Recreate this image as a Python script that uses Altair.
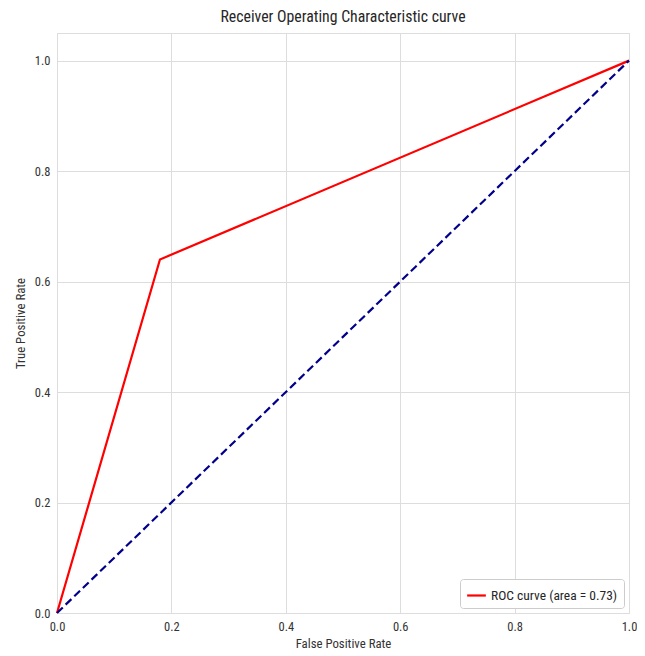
import altair as alt
import pandas as pd

fpr = [0.0, 0.18, 1.0]
tpr = [0.0, 0.64, 1.0]
diag_x = [0.0, 1.0]
diag_y = [0.0, 1.0]
label = "ROC curve (area = 0.73)"
ticks = [0.0, 0.2, 0.4, 0.6, 0.8, 1.0]

roc = pd.DataFrame({"fpr": fpr, "tpr": tpr, "series": [label] * len(fpr)})
diag = pd.DataFrame({"fpr": diag_x, "tpr": diag_y})

FONT = "Liberation Sans Narrow, Roboto Condensed, Roboto, DejaVu Sans"

x_enc = alt.X("fpr:Q", scale=alt.Scale(domain=[0, 1], nice=False, zero=False),
              axis=alt.Axis(values=ticks, format=".1f", title="False Positive Rate"))
y_enc = alt.Y("tpr:Q", scale=alt.Scale(domain=[0, 1.05], nice=False, zero=False),
              axis=alt.Axis(values=ticks, format=".1f", title="True Positive Rate"))

diag_line = alt.Chart(diag).mark_line(color="#00008b", strokeWidth=2.2, strokeDash=[8, 4]).encode(
    x=x_enc, y=y_enc
)

roc_line = alt.Chart(roc).mark_line(strokeWidth=2.2).encode(
    x=x_enc, y=y_enc,
    color=alt.Color("series:N", scale=alt.Scale(domain=[label], range=["#ff0000"]),
                    legend=alt.Legend(title=None, orient="bottom-right", symbolType="stroke",
                                      symbolStrokeWidth=2.2, symbolSize=350,
                                      strokeColor="#cccccc", fillColor="white",
                                      padding=6, cornerRadius=3,
                                      labelFont=FONT, labelFontSize=13.5, labelColor="#262626",
                                      offset=5))
)

chart = alt.layer(roc_line, diag_line).properties(
    width=572, height=580,
    title=alt.TitleParams("Receiver Operating Characteristic curve", font=FONT, fontSize=15.8,
                          fontWeight="normal", color="#262626", offset=7),
    autosize=alt.AutoSizeParams(type="none"),
    padding={"left": 49, "top": 25, "right": 8, "bottom": 42},
).configure_view(
    stroke="#dddddd", strokeWidth=1
).configure_axis(
    grid=True, gridColor="#dddddd", gridWidth=1, domain=False, ticks=False, labelFlush=False,
    labelFont=FONT, labelFontSize=12.5, labelColor="#333333", labelPadding=7,
    titleFont=FONT, titleFontSize=12.8, titleFontWeight="normal", titleColor="#333333",
).configure_axisX(titlePadding=5).configure_axisY(titlePadding=7)

chart.save("out.html", embed_options={"renderer": "svg", "actions": False})
